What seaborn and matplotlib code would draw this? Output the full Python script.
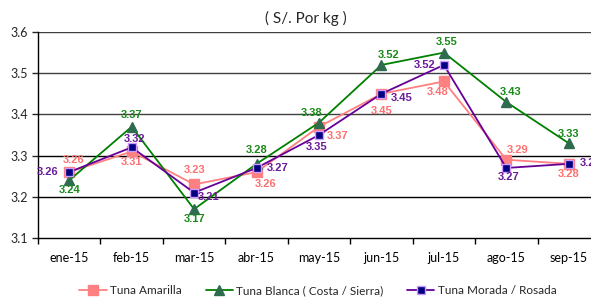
import matplotlib
matplotlib.use("Agg")
import matplotlib.pyplot as plt
import seaborn as sns
import pandas as pd
import numpy as np

months = ["ene-15", "feb-15", "mar-15", "abr-15", "may-15", "jun-15", "jul-15", "ago-15", "sep-15"]
amarilla = [3.26, 3.31, 3.23, 3.26, 3.37, 3.45, 3.48, 3.29, 3.28]
blanca = [3.24, 3.37, 3.17, 3.28, 3.38, 3.52, 3.55, 3.43, 3.33]
morada = [3.26, 3.32, 3.21, 3.27, 3.35, 3.45, 3.52, 3.27, 3.28]
series_names = ["Tuna Amarilla", "Tuna Blanca ( Costa / Sierra)", "Tuna Morada / Rosada"]
title = "( S/. Por kg )"

# label offsets in pixels (dx, dy)
off_amarilla = [(4, 12), (0, -11), (0, 14), (9, -12), (19, -9), (0, -17), (-6, -11), (11, 10), (0, -10)]
off_blanca = [(0, -10), (0, 12), (0, -10), (0, 14), (-7, 10), (7, 10), (3, 11), (4, 10), (0, 9)]
off_morada = [(-22, 0), (3, 8), (14, -4), (21, 0), (-2, -12), (20, -4), (-19, 0), (2, -9), (22, 1)]

sns.set_style("white")
plt.rcParams['font.family'] = ['Lato', 'DejaVu Sans']

fig = plt.figure(figsize=(5.91, 2.98), dpi=100)
ax = fig.add_axes([38/591, 60/298, 562/591, 206/298])

x = np.arange(len(months))
styles = [
    dict(data=amarilla, marker="s", ms=6.5, mfc="#FF8080", mec="#FF8080", lc="#FF8080", tc="#FF7070", off=off_amarilla),
    dict(data=blanca, marker="^", ms=6.5, mfc="#2E6B4F", mec="#2E6B4F", lc="#008000", tc="#1A8A1A", off=off_blanca),
    dict(data=morada, marker="s", ms=5.5, mfc="#000080", mec="#CC99FF", lc="#660099", tc="#6A1B9A", off=off_morada),
]

for name, st in zip(series_names, styles):
    sns.lineplot(x=x, y=st["data"], ax=ax, color=st["lc"], linewidth=1.3,
                 marker=st["marker"], markersize=st["ms"], markerfacecolor=st["mfc"],
                 markeredgecolor=st["mec"], markeredgewidth=1.0, label=name, sort=False)
    for xi, v, (dx, dy) in zip(x, st["data"], st["off"]):
        ax.annotate(f"{v:.2f}", (xi, v), xytext=(dx, dy), textcoords="offset pixels",
                    ha="center", va="center", fontsize=8, fontweight="bold",
                    color=st["tc"], family=["Liberation Sans", "DejaVu Sans"], annotation_clip=False)

ax.set_xlim(-0.5, len(months) - 0.5)
ax.set_ylim(3.1, 3.6)
ax.set_yticks([3.1, 3.2, 3.3, 3.4, 3.5, 3.6])
ax.set_yticklabels([f"{t:.1f}" for t in [3.1, 3.2, 3.3, 3.4, 3.5, 3.6]], fontsize=9)
ax.set_xticks(x)
ax.set_xticklabels(months, fontsize=9)
ax.set_xticks(np.arange(-0.5, len(months), 1.0), minor=True)
ax.tick_params(axis="x", which="major", length=0, pad=10, colors="#000000")
ax.tick_params(axis="x", which="minor", length=4, width=1, direction="out", color="#000000", bottom=True)
ax.tick_params(axis="y", which="major", length=4, width=1, direction="out", left=True, pad=3)
for t in [3.2, 3.3, 3.4, 3.5, 3.6]:
    ax.axhline(t, color="#404040" if t not in (3.2, 3.3) else "#000000", lw=1.0, zorder=0)
for s in ["top", "right"]:
    ax.spines[s].set_visible(False)
for s in ["left", "bottom"]:
    ax.spines[s].set_color("#000000")
    ax.spines[s].set_linewidth(1.0)
ax.set_xlabel("")
ax.set_ylabel("")

fig.text(306/591, 1 - 18/298, title, ha="center", va="center", fontsize=11)

ax.legend(loc="center", bbox_to_anchor=(318/591, 1 - 291/298), bbox_transform=fig.transFigure, ncol=3,
          frameon=False, fontsize=8.5, handlelength=2.3, columnspacing=2.0, handletextpad=0.3)

fig.savefig("out.png", dpi=100)
